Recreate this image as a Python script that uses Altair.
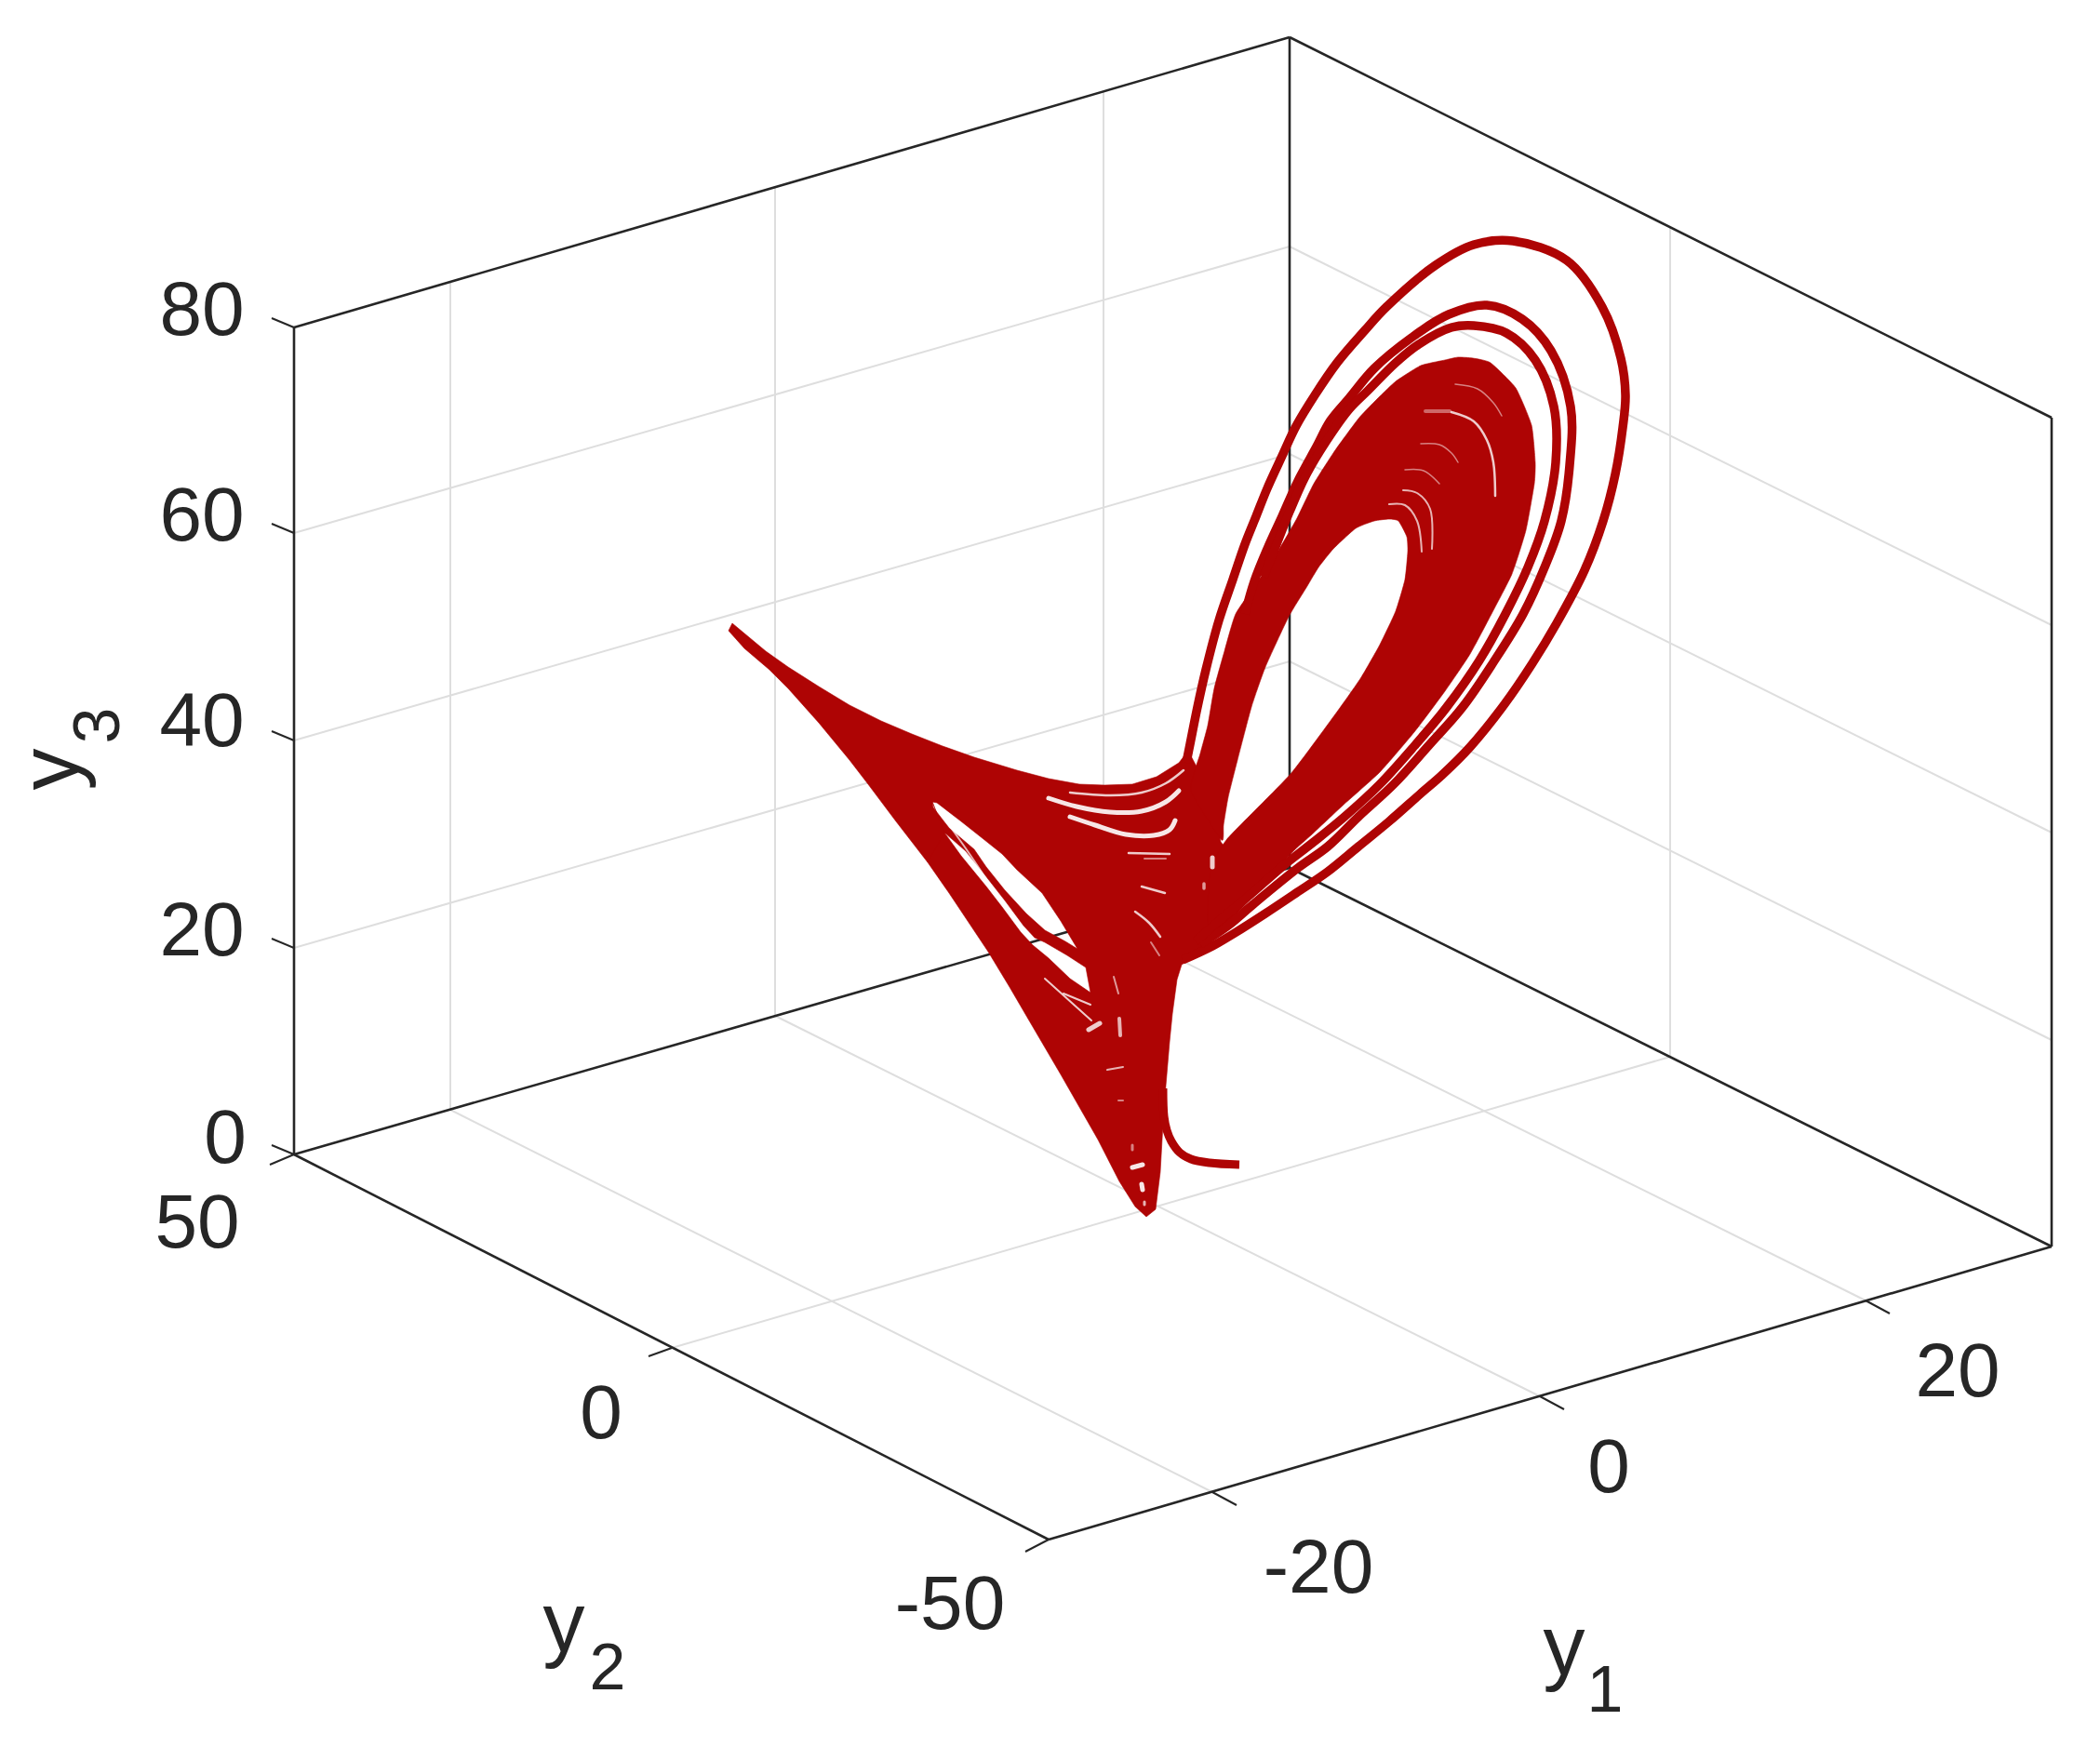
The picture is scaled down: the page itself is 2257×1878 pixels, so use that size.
import altair as alt
import pandas as pd

W, H = 2241, 1860
RED = "#ae0404"
INK = "#262626"
GRID = "#dedede"

# Picture units: the projected position of each element in the 3-D view.
box_edges = [
    [(316, 352), (316, 1241)],
    [(316, 352), (1386, 40)],
    [(1386, 40), (1386, 933)],
    [(1386, 40), (2205, 449)],
    [(2205, 449), (2205, 1340)],
    [(1386, 933), (2205, 1340)],
    [(316, 1241), (1386, 933)],
    [(316, 1241), (1127, 1655)],
    [(1127, 1655), (2205, 1340)],
]
axis_ticks = [
    [(316, 352), (292, 342)], [(316, 573), (292, 563)], [(316, 796), (292, 786)],
    [(316, 1019), (292, 1009)], [(316, 1241), (292, 1231)],
    [(316, 1241), (290, 1252)], [(722, 1449), (697, 1458)], [(1127, 1655), (1102, 1668)],
    [(1303, 1604), (1329, 1618)], [(1655, 1501), (1681, 1515)], [(2005, 1398), (2031, 1412)],
]
grid_lines = [
    [(316, 573), (1386, 265)], [(316, 796), (1386, 488)], [(316, 1019), (1386, 711)],
    [(1386, 265), (2205, 672)], [(1386, 488), (2205, 895)], [(1386, 711), (2205, 1118)],
    [(484, 303), (484, 1193)], [(833, 201), (833, 1092)], [(1186, 98), (1186, 991)],
    [(1795, 244), (1795, 1136)],
    [(484, 1193), (1303, 1604)], [(833, 1092), (1655, 1501)], [(1186, 991), (2005, 1398)],
    [(722, 1449), (1795, 1136)],
]

left_lobe_outline = [
    (787, 670), (823, 700), (847, 717), (880, 738), (913, 758), (947, 775), (980, 789), (1013, 802),
    (1047, 814), (1093, 828), (1127, 837), (1160, 843), (1187, 844), (1217, 843),
    (1243, 835), (1267, 820), (1277, 807), (1305, 860), (1312, 905), (1340, 940), (1300, 1015),
    (1277, 1033), (1270, 1037), (1265, 1053), (1260, 1090), (1257, 1120), (1253, 1167), (1250, 1207),
    (1247, 1260), (1242, 1300), (1232, 1308), (1220, 1297), (1203, 1270), (1180, 1225), (1140, 1155),
    (1106, 1097), (1085, 1061), (1062, 1023), (1020, 960), (997, 927),
]
# openings in the left lobe, drawn as true gaps in its outline
left_lobe_open_a = [
    (1015, 895), (1033, 920), (1060, 953), (1077, 975), (1097, 1002), (1110, 1016), (1127, 1030),
    (1150, 1052), (1172, 1067), (1167, 1040), (1147, 1027), (1123, 1013), (1112, 1008), (1100, 995),
    (1080, 968), (1062, 945), (1038, 915), (1015, 895),
]
left_lobe_open_b = [
    (1002, 862), (1003, 868), (1020, 890), (1047, 913), (1060, 932), (1080, 957), (1103, 982),
    (1123, 1000), (1145, 1012), (1158, 1020), (1140, 990), (1120, 960), (1093, 935), (1077, 918),
    (1057, 902), (1033, 883), (1007, 863), (1002, 862),
]
left_lobe_rest = [
    (1015, 895), (997, 927), (963, 883), (933, 843), (913, 817), (880, 777), (847, 740), (827, 720),
    (800, 697), (783, 678),
]

right_lobe_outline = [
    (1300, 1010), (1345, 965), (1388, 917), (1410, 897), (1443, 866), (1483, 830), (1520, 787),
    (1553, 743), (1580, 703), (1603, 660), (1625, 617), (1640, 570), (1649, 520), (1650, 497),
    (1646, 457), (1629, 417), (1602, 390), (1583, 385), (1567, 384), (1553, 387), (1527, 393),
    (1500, 410), (1477, 432), (1460, 450), (1435, 484), (1412, 520), (1394, 557), (1375, 590),
    (1352, 625), (1328, 660), (1316, 700), (1305, 740), (1298, 780), (1290, 810),
    (1280, 850), (1313, 903), (1315, 887), (1320, 857), (1330, 817), (1345, 760), (1360, 717),
    (1385, 663), (1405, 630), (1417, 610), (1433, 590), (1457, 568), (1477, 560), (1493, 558),
    (1503, 560), (1512, 577), (1513, 593), (1510, 623), (1500, 657), (1483, 693), (1463, 728),
    (1440, 761), (1387, 832), (1318, 903), (1300, 940),
]
orbit_outer = [
    (1271, 1032), (1303, 1017), (1327, 1003), (1360, 982), (1393, 960), (1427, 937), (1460, 910),
    (1493, 883), (1527, 853), (1550, 833), (1580, 803), (1617, 757), (1647, 713), (1673, 670),
    (1703, 613), (1723, 560), (1736, 510), (1744, 460), (1747, 425), (1742, 385), (1722, 330),
    (1684, 280), (1626, 259), (1584, 263), (1543, 285), (1490, 330), (1467, 355), (1437, 390),
    (1413, 425), (1393, 458), (1378, 490), (1362, 525), (1350, 555), (1338, 585), (1325, 623),
    (1310, 667), (1296, 720), (1287, 760), (1279, 800), (1275, 820),
]
orbit_second = [
    (1290, 1015), (1320, 995), (1347, 972), (1395, 933), (1427, 910), (1460, 878), (1498, 843),
    (1535, 802), (1572, 760), (1605, 712), (1637, 660), (1660, 610), (1678, 560), (1687, 500),
    (1688, 437), (1667, 377), (1636, 343), (1598, 328), (1557, 338), (1517, 363), (1477, 396),
    (1450, 428), (1430, 452), (1415, 480), (1395, 517), (1378, 555), (1362, 590), (1348, 625),
    (1338, 660),
]
orbit_third = [
    (1285, 1012), (1310, 990), (1340, 965), (1380, 930), (1412, 905), (1445, 878), (1483, 843),
    (1520, 802), (1555, 760), (1590, 710), (1618, 660), (1642, 610), (1660, 560), (1672, 497),
    (1670, 437), (1650, 387), (1619, 358), (1584, 350), (1560, 352), (1525, 370), (1500, 390),
    (1470, 420), (1450, 440), (1425, 475), (1403, 512), (1386, 550), (1372, 585), (1358, 620),
]
start_tail = [(1250, 1170), (1251, 1200), (1254, 1215), (1259, 1227), (1268, 1239), (1280, 1246),
              (1300, 1250), (1332, 1252)]

# (stroke width, opacity, points) of the thin gaps between the strands of the orbit
gaps = [
    (2.5, 0.8, [(1150, 852), (1193, 855), (1227, 852), (1253, 842), (1272, 828)]),
    (5, 0.9, [(1127, 858), (1157, 867), (1193, 873), (1227, 872), (1253, 862), (1267, 850)]),
    (5, 0.9, [(1150, 878), (1177, 887), (1210, 897), (1240, 898), (1257, 892), (1263, 882)]),
    (2.5, 0.8, [(1213, 917), (1257, 918)]),
    (2, 0.5, [(1230, 923), (1253, 923)]),
    (2.5, 0.8, [(1227, 953), (1252, 960)]),
    (2.5, 0.8, [(1220, 980), (1235, 992), (1247, 1007)]),
    (2, 0.5, [(1237, 1013), (1246, 1027)]),
    (5, 0.8, [(1303, 922), (1303, 932)]),
    (3.5, 0.6, [(1294, 950), (1294, 955)]),
    (2, 0.8, [(1123, 1052), (1173, 1097)]),
    (2, 0.8, [(1143, 1068), (1172, 1080)]),
    (2, 0.7, [(1015, 880), (1040, 915), (1060, 945)]),
    (5, 0.8, [(1170, 1107), (1182, 1100)]),
    (4, 0.7, [(1203, 1095), (1204, 1113)]),
    (2, 0.7, [(1190, 1150), (1207, 1147)]),
    (2, 0.5, [(1202, 1183), (1207, 1183)]),
    (3, 0.5, [(1217, 1231), (1217, 1236)]),
    (5, 0.9, [(1217, 1255), (1228, 1252)]),
    (5, 0.9, [(1227, 1273), (1228, 1279)]),
    (3, 0.7, [(1230, 1292), (1230, 1295)]),
    (2, 0.6, [(1197, 1050), (1202, 1068)]),
    (4, 0.4, [(1532, 442), (1558, 442)]),
    (2.5, 0.8, [(1560, 443), (1584, 453), (1598, 473), (1605, 497), (1607, 533)]),
    (1.5, 0.5, [(1564, 413), (1588, 418), (1605, 433), (1614, 447)]),
    (1.5, 0.5, [(1527, 477), (1547, 478), (1560, 487), (1567, 497)]),
    (1.5, 0.5, [(1510, 505), (1530, 506), (1547, 520)]),
    (2, 0.7, [(1508, 527), (1523, 530), (1537, 547), (1539, 590)]),
    (2, 0.7, [(1493, 542), (1510, 543), (1523, 560), (1528, 593)]),
]

tick_labels = [
    ("80", 217, 360), ("60", 217, 581), ("40", 217, 802), ("20", 217, 1027), ("0", 242, 1250),
    ("50", 212, 1341), ("0", 646, 1546), ("-50", 1021, 1751),
    ("-20", 1417, 1712), ("0", 1729, 1604), ("20", 2104, 1501),
]
axis_letters = [("y", 606, 1775), ("y", 1681, 1800)]
axis_subscripts = [("2", 653, 1816), ("1", 1725, 1840)]

xs = alt.Scale(domain=[8, 8 + W], range=[0, W], nice=False, zero=False)
ys = alt.Scale(domain=[8, 8 + H], range=[0, H], nice=False, zero=False)
X = alt.X("x:Q", scale=xs, axis=None)
Y = alt.Y("y:Q", scale=ys, axis=None)


def frame(segments):
    rows = []
    for g, pts in enumerate(segments):
        for i, (a, b) in enumerate(pts):
            rows.append({"g": g, "i": i, "x": a, "y": b})
    return pd.DataFrame(rows)


def lines(segments, color, width, **kw):
    return alt.Chart(frame(segments)).mark_line(
        color=color, strokeWidth=width, **kw
    ).encode(x=X, y=Y, detail="g:N", order="i:Q")


def polygon(points, interp="linear-closed", **kw):
    return alt.Chart(frame([points])).mark_line(
        interpolate=interp, fill=RED, stroke=RED, strokeWidth=0.6, **kw
    ).encode(x=X, y=Y, order="i:Q")


def texts(rows, size):
    df = pd.DataFrame(rows, columns=["t", "x", "y"])
    return alt.Chart(df).mark_text(
        font="Liberation Sans", fontSize=size, color=INK, align="center", baseline="alphabetic"
    ).encode(x=X, y=Y, text="t:N")


def rotated(rows, size):
    df = pd.DataFrame(rows, columns=["t", "x", "y"])
    return alt.Chart(df).mark_text(
        font="Liberation Sans", fontSize=size, color=INK, align="center", baseline="alphabetic", angle=270
    ).encode(x=X, y=Y, text="t:N")


layers = [
    lines(grid_lines, GRID, 2),
    lines(box_edges, INK, 2.6),
    lines(axis_ticks, INK, 2),
    polygon(left_lobe_outline + left_lobe_open_a + left_lobe_open_b + left_lobe_rest),
    polygon(right_lobe_outline, interp="cardinal-closed", tension=0.5),
    lines([orbit_outer, orbit_second, orbit_third], RED, 9.5, interpolate="catmull-rom"),
    lines([start_tail], RED, 9, interpolate="catmull-rom"),
]
for w, op, pts in gaps:
    layers.append(lines([pts], "#ffffff", w, interpolate="catmull-rom", strokeCap="round", opacity=op))
layers += [
    texts(tick_labels, 82),
    texts(axis_letters, 90),
    texts(axis_subscripts, 70),
    rotated([("y", 84, 827)], 90),
    rotated([("3", 128, 780)], 70),
]

chart = alt.layer(*layers).properties(
    width=W, height=H, padding=0, background="white",
    autosize=alt.AutoSizeParams(type="none"),
).configure_view(strokeWidth=0)

chart.save("out.html", embed_options={"renderer": "svg", "actions": False})
